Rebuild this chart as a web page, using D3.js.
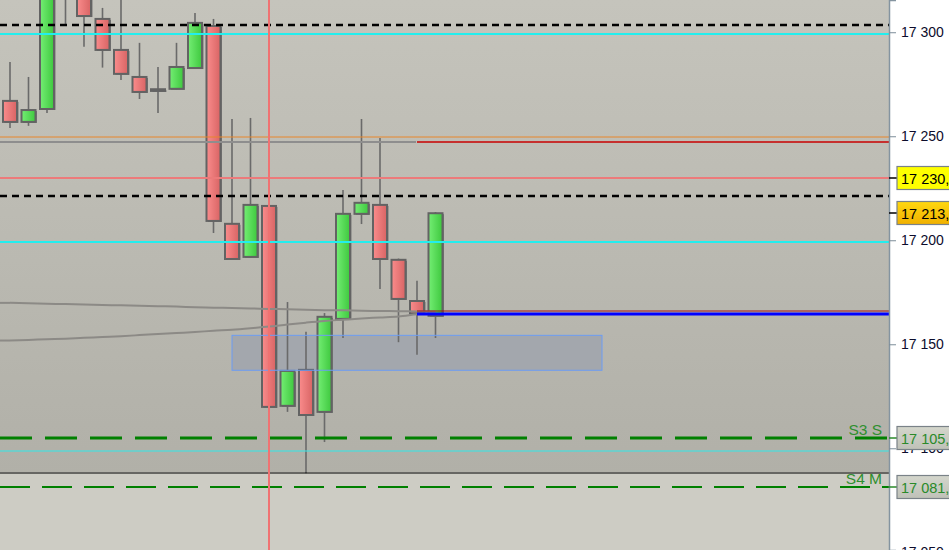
<!DOCTYPE html>
<html>
<head>
<meta charset="utf-8">
<script src="https://cdn.jsdelivr.net/npm/d3@7"></script>
<style>
html,body{margin:0;padding:0;background:#fff;}
svg{display:block;font-family:"Liberation Sans",Arial,sans-serif;}
</style>
</head>
<body>
<div id="chart"></div>
<script>
// ---- data ----
const candleIndex = d3.range(24);
const opens  = [17267.0,17256.9,17263.1,17335.0,17318.0,17306.4,17291.5,17278.5,17271.8,17272.8,17282.8,17303.0,17207.9,17192.0,17216.5,17120.4,17137.7,17117.5,17162.2,17212.7,17217.0,17190.6,17170.8,17163.7];
const highs  = [17285.7,17278.5,17340.0,17345.0,17325.0,17311.7,17318.0,17294.9,17283.3,17294.9,17309.3,17306.4,17258.3,17258.8,17218.0,17170.3,17156.0,17165.0,17224.2,17258.3,17249.1,17191.2,17180.5,17213.6];
const lows   = [17254.0,17255.0,17261.2,17304.0,17293.0,17283.0,17277.1,17267.9,17261.2,17272.3,17282.8,17203.5,17191.0,17191.5,17119.9,17117.5,17088.0,17103.0,17153.0,17207.8,17176.6,17151.0,17145.0,17153.0];
const closes = [17256.9,17262.6,17330.0,17320.0,17307.8,17291.5,17280.0,17271.3,17272.6,17283.3,17304.5,17209.3,17191.0,17217.0,17119.9,17137.2,17116.0,17163.2,17212.7,17218.0,17191.0,17171.8,17164.9,17213.0];
const maSlow = [17169.9,17169.7,17169.5,17169.3,17169.1,17168.9,17168.7,17168.5,17168.3,17168.1,17167.8,17167.6,17167.4,17167.2,17167.0,17166.8,17166.6,17166.4,17166.3,17166.1,17166.0,17165.9,17165.8,17165.7];
const maFast = [17151.8,17152.1,17152.4,17152.7,17153.1,17153.5,17153.9,17154.4,17154.9,17155.4,17155.9,17156.5,17157.0,17157.7,17158.5,17159.5,17160.4,17161.2,17161.8,17162.4,17162.9,17163.4,17164.4,17165.2];
const yTicks = [17050,17100,17150,17200,17250,17300];
const dashedLevels = [17303.6,17221.4];
const cyanLevels = [17299.2,17199.2];
const cyanThinLevel = 17098.7;
const orangeLevel = 17249.5;
const grayLevel = 17247.1;      // ends at candle 22
const redLevel = 17247.1;       // starts at candle 22
const pinkLevel = 17229.7;
const blueLevel = 17164.4;
const darkRedLevel = 17165.9;
const separatorLevel = 17088.3;
const supportLevels = [{name:"S3 S", value:17104.8, label:"17 105,"},{name:"S4 M", value:17081.3, label:"17 081,"}];
const priceTags = [{value:17229.7, label:"17 230,"},{value:17213.0, label:"17 213,"}];
const zone = {from:12, to:32, low:17137.5, high:17154.3};
const cursorIndex = 14;
const segStart = 22;

// ---- layout ----
const W = 949, H = 550, plotW = 889;
const svg = d3.select("#chart").append("svg").attr("width",W).attr("height",H);
const x = d3.scaleLinear().domain([-0.5,47.5]).range([0.75,888.75]);
const y = d3.scaleLinear().domain([17051.1,17315.5]).range([H,0]);
const fmt = d3.formatLocale({decimal:",",thousands:" ",grouping:[3],currency:["",""]}).format(",.0f");

const defs = svg.append("defs");
const bg = defs.append("linearGradient").attr("id","bg").attr("x1",0).attr("y1",0).attr("x2",0).attr("y2",1);
bg.append("stop").attr("offset","0%").attr("stop-color","#c5c4bc");
bg.append("stop").attr("offset","100%").attr("stop-color","#b1b0a8");
const gG = defs.append("linearGradient").attr("id","gG");
gG.append("stop").attr("offset","0%").attr("stop-color","#74ee74");
gG.append("stop").attr("offset","100%").attr("stop-color","#3ec83e");
const gR = defs.append("linearGradient").attr("id","gR");
gR.append("stop").attr("offset","0%").attr("stop-color","#fa8c8c");
gR.append("stop").attr("offset","100%").attr("stop-color","#d86464");
const gY = defs.append("linearGradient").attr("id","gY").attr("x1",0).attr("y1",0).attr("x2",0).attr("y2",1);
gY.append("stop").attr("offset","0%").attr("stop-color","#ffd810");
gY.append("stop").attr("offset","100%").attr("stop-color","#f0b000");
const gS = defs.append("linearGradient").attr("id","gS").attr("x1",0).attr("y1",0).attr("x2",0).attr("y2",1);
gS.append("stop").attr("offset","0%").attr("stop-color","#d4d6cc");
gS.append("stop").attr("offset","100%").attr("stop-color","#bfc1b8");
defs.append("clipPath").attr("id","plotClip").append("rect").attr("x",0).attr("y",0).attr("width",plotW).attr("height",H);

// backgrounds
svg.append("rect").attr("x",0).attr("y",0).attr("width",plotW).attr("height",y(separatorLevel)).attr("fill","url(#bg)");
svg.append("rect").attr("x",0).attr("y",y(separatorLevel)).attr("width",plotW).attr("height",H-y(separatorLevel)).attr("fill","#cdccc4");

const plot = svg.append("g").attr("clip-path","url(#plotClip)");

// zone fill
plot.append("rect").attr("x",x(zone.from)).attr("y",y(zone.high))
  .attr("width",x(zone.to)-x(zone.from)).attr("height",y(zone.low)-y(zone.high))
  .attr("fill","#a3a7ad");

// candles
const cw = 14;
const cg = plot.append("g");
candleIndex.forEach(i=>{
  const up = closes[i] >= opens[i];
  const cx = x(i);
  cg.append("line").attr("x1",cx).attr("x2",cx).attr("y1",y(highs[i])).attr("y2",y(lows[i]))
    .attr("stroke","#6a6a6a").attr("stroke-width",1.6);
  const top = y(Math.max(opens[i],closes[i])), bot = y(Math.min(opens[i],closes[i]));
  const h = Math.max(bot-top,1.5);
  cg.append("rect").attr("x",cx-cw/2+1.5).attr("y",top+1).attr("width",cw).attr("height",h)
    .attr("fill","#777");
  cg.append("rect").attr("x",cx-cw/2).attr("y",top).attr("width",cw).attr("height",h)
    .attr("fill",up?"url(#gG)":"url(#gR)").attr("stroke","#636363").attr("stroke-width",2);
});

// zone stroke
plot.append("rect").attr("x",x(zone.from)).attr("y",y(zone.high))
  .attr("width",x(zone.to)-x(zone.from)).attr("height",y(zone.low)-y(zone.high))
  .attr("fill","none").attr("stroke","#6c9cf4").attr("stroke-width",1);

// moving averages
const line = d3.line().x((d,i)=>x(i)).y(d=>y(d)).curve(d3.curveMonotoneX);
[maSlow,maFast].forEach(ma=>{
  plot.append("path").attr("d",line(ma))
    .attr("fill","none").attr("stroke","#8c8a86").attr("stroke-width",2);
  plot.append("line").attr("x1",0).attr("x2",x(0)).attr("y1",y(ma[0])).attr("y2",y(ma[0]))
    .attr("stroke","#8c8a86").attr("stroke-width",2);
});

function hline(v, x1, x2, color, width, dash){
  const l = plot.append("line").attr("x1",x1).attr("x2",x2).attr("y1",Math.round(y(v))).attr("y2",Math.round(y(v)))
    .attr("stroke",color).attr("stroke-width",width);
  if(dash) l.attr("stroke-dasharray",dash);
  return l;
}
hline(orangeLevel,0,plotW,"#e8862a",1);
hline(grayLevel,0,x(segStart)-1,"#8e8e8e",2);
hline(redLevel,x(segStart),plotW,"#c80000",1.5);
hline(pinkLevel,0,plotW,"#ec7a7a",2);
dashedLevels.forEach(v=>hline(v,0,plotW,"#000",2.5,"7,5"));
cyanLevels.forEach(v=>hline(v,0,plotW,"#22eeee",2));
hline(cyanThinLevel,0,plotW,"#30e8e8",1);
hline(darkRedLevel,x(segStart),plotW,"#a01010",1);
hline(blueLevel,x(segStart),plotW,"#0000ff",3);
hline(supportLevels[0].value,0,plotW,"#008000",3,"32,13");
hline(supportLevels[1].value,0,plotW,"#008000",2,"30,12");
hline(separatorLevel,0,plotW,"#000",1.2);

// cursor
plot.append("line").attr("x1",x(cursorIndex)).attr("x2",x(cursorIndex)).attr("y1",0).attr("y2",H)
  .attr("stroke","#f07272").attr("stroke-width",2);

// support labels
supportLevels.forEach(s=>{
  svg.append("text").attr("x",882).attr("y",y(s.value)-3).attr("text-anchor","end")
    .attr("font-size",15.5).attr("fill","#2f8f2f").text(s.name);
});

// axis
const axis = d3.axisRight(y).tickValues(yTicks).tickSize(7).tickPadding(5).tickFormat(fmt);
const ag = svg.append("g").attr("transform",`translate(${plotW},0)`).call(axis);
ag.select(".domain").attr("stroke","#8494a0").attr("stroke-width",1.5);
ag.selectAll(".tick line").attr("stroke","#7d8d99");
ag.selectAll(".tick text").attr("font-size",14).attr("fill","#0c0c2c").attr("font-family","'Liberation Sans',Arial,sans-serif");

// price tags
function tag(v,label,fill,textColor,tickColor){
  const yy = Math.round(y(v));
  svg.append("line").attr("x1",plotW).attr("x2",plotW+8).attr("y1",yy).attr("y2",yy).attr("stroke",tickColor).attr("stroke-width",1.5);
  svg.append("rect").attr("x",897).attr("y",yy-11.5).attr("width",60).attr("height",23)
    .attr("fill",fill).attr("stroke","#7a8288").attr("stroke-width",1.2);
  svg.append("text").attr("x",901).attr("y",yy+5.5).attr("font-size",14.5).attr("fill",textColor).text(label);
}
tag(priceTags[0].value,priceTags[0].label,"#ffff00","#000","#000");
tag(priceTags[1].value,priceTags[1].label,"url(#gY)","#000","#000");
supportLevels.forEach(s=>tag(s.value,s.label,"url(#gS)","#2a8a2a","#2a8a2a"));
</script>
</body>
</html>
